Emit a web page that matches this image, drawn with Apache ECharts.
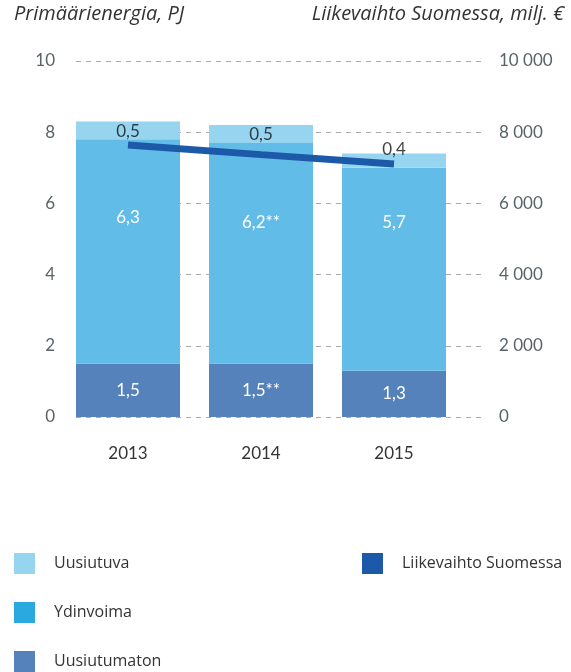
<!DOCTYPE html>
<html>
<head>
<meta charset="utf-8">
<script src="https://cdn.jsdelivr.net/npm/echarts@6/dist/echarts.min.js"></script>
<style>
html,body{margin:0;padding:0;background:#fff;}
#chart{width:571px;height:672px;}
</style>
</head>
<body>
<div id="chart"></div>
<script>
const years = ['2013', '2014', '2015'];
const uusiutumaton = [1.5, 1.5, 1.3];
const ydinvoima = [6.3, 6.2, 5.7];
const uusiutuva = [0.5, 0.5, 0.4];
const liikevaihto = [7640, 7370, 7110];
const notes = ['', '**', ''];
const leftTicks = [0, 2, 4, 6, 8, 10];
const rightTicks = [0, 2000, 4000, 6000, 8000, 10000];

const ydinOffsets = [-34, -31, -47];
const uusiOffsets = [10, 9, -4];

const fmt = v => String(v).replace('.', ',');
const fmtThousands = v => String(v).replace(/\B(?=(\d{3})+(?!\d))/g, ' ');

const FONT = 'Lato';
const LFONT = 'Open Sans';
const totals = years.map((_, i) => +(uusiutumaton[i] + ydinvoima[i] + uusiutuva[i]).toFixed(2));

const legendItems = [
  {name: 'Uusiutuva', color: '#97d4f0', left: 14, top: 553},
  {name: 'Ydinvoima', color: '#2aa8e0', left: 14, top: 602},
  {name: 'Uusiutumaton', color: '#5582bb', left: 14, top: 651},
  {name: 'Liikevaihto Suomessa', color: '#1c59a8', left: 362, top: 553}
];

const chart = echarts.init(document.getElementById('chart'), null, {renderer: 'canvas'});
const yMin = leftTicks[0], yMax = leftTicks[leftTicks.length - 1];
const rMin = rightTicks[0], rMax = rightTicks[rightTicks.length - 1];
const hiddenAxis = {axisLine: {show: false}, axisTick: {show: false}, axisLabel: {show: false}, splitLine: {show: false}};

const option = {
  animation: false,
  backgroundColor: '#fff',
  textStyle: {fontFamily: FONT},
  grid: [
    {left: 61.5, right: 110.5, top: 61, bottom: 255},
    {left: 76, right: 87, top: 61, bottom: 255}
  ],
  graphic: [
    {type: 'text', left: 14, top: 4, style: {text: 'Primäärienergia, PJ', fontFamily: LFONT, fontStyle: 'italic', fontSize: 20, fill: '#333'}},
    {type: 'text', right: 7, top: 4, style: {text: 'Liikevaihto Suomessa, milj. €', fontFamily: LFONT, fontStyle: 'italic', fontSize: 20, fill: '#333'}}
  ],
  legend: legendItems.map(it => ({
    left: it.left, top: it.top, padding: 0, itemWidth: 21, itemHeight: 21, icon: 'rect',
    textStyle: {fontFamily: LFONT, fontSize: 16, color: '#333', padding: [0, 0, 0, 14]},
    data: [{name: it.name, itemStyle: {color: it.color}}]
  })),
  xAxis: [
    {
      type: 'category', data: years, gridIndex: 0,
      axisLine: {show: false}, axisTick: {show: false},
      axisLabel: {fontFamily: FONT, fontSize: 17, color: '#333', margin: 28}
    },
    {type: 'category', data: years, gridIndex: 1, ...hiddenAxis}
  ],
  yAxis: [
    {type: 'value', gridIndex: 0, min: yMin, max: yMax, interval: 2, ...hiddenAxis},
    {type: 'value', gridIndex: 0, min: rMin, max: rMax, interval: 2000, position: 'right', ...hiddenAxis},
    {
      type: 'value', gridIndex: 1, min: yMin, max: yMax, interval: 2,
      axisLine: {show: false}, axisTick: {show: false},
      axisLabel: {fontFamily: FONT, fontSize: 17, color: '#5a6468', margin: 21},
      splitLine: {show: true, lineStyle: {color: '#aaaaaa', type: [5, 5], width: 1}}
    },
    {
      type: 'value', gridIndex: 1, min: rMin, max: rMax, interval: 2000, position: 'right',
      axisLine: {show: false}, axisTick: {show: false},
      axisLabel: {fontFamily: FONT, fontSize: 17, color: '#5a6468', margin: 15, formatter: v => fmtThousands(v)},
      splitLine: {show: false}
    }
  ],
  series: [
    {
      name: 'Uusiutumaton', type: 'bar', stack: 'e', barWidth: 104, xAxisIndex: 0, yAxisIndex: 0, z: 3,
      itemStyle: {color: '#5582bb'},
      label: {show: true, position: 'inside', color: '#fff', fontFamily: FONT, fontSize: 17,
        formatter: p => fmt(p.value) + notes[p.dataIndex]},
      data: uusiutumaton
    },
    {
      name: 'Ydinvoima', type: 'bar', stack: 'e', barWidth: 104, xAxisIndex: 0, yAxisIndex: 0, z: 3,
      itemStyle: {color: '#62bce8'},
      data: ydinvoima.map((v, i) => ({
        value: v,
        label: {show: true, position: 'inside', offset: [0, ydinOffsets[i]], color: '#fff', fontFamily: FONT, fontSize: 17,
          formatter: p => fmt(p.value) + notes[p.dataIndex]}
      }))
    },
    {
      name: 'Uusiutuva', type: 'bar', stack: 'e', barWidth: 104, xAxisIndex: 0, yAxisIndex: 0, z: 3,
      itemStyle: {color: '#97d4f0'},
      data: uusiutuva
    },
    {
      name: 'Liikevaihto Suomessa', type: 'line', xAxisIndex: 0, yAxisIndex: 1, z: 4,
      symbol: 'none', lineStyle: {color: '#1c59a8', width: 7},
      itemStyle: {color: '#1c59a8'},
      data: liikevaihto
    },
    {
      name: 'uusiLabels', type: 'scatter', xAxisIndex: 0, yAxisIndex: 0, z: 6, symbolSize: 0, silent: true,
      data: totals.map((t, i) => ({
        value: t,
        label: {show: true, position: 'inside', offset: [0, uusiOffsets[i]], color: '#111', fontFamily: FONT, fontSize: 17,
          formatter: () => fmt(uusiutuva[i])}
      }))
    }
  ]
};
chart.setOption(option);
</script>
</body>
</html>
